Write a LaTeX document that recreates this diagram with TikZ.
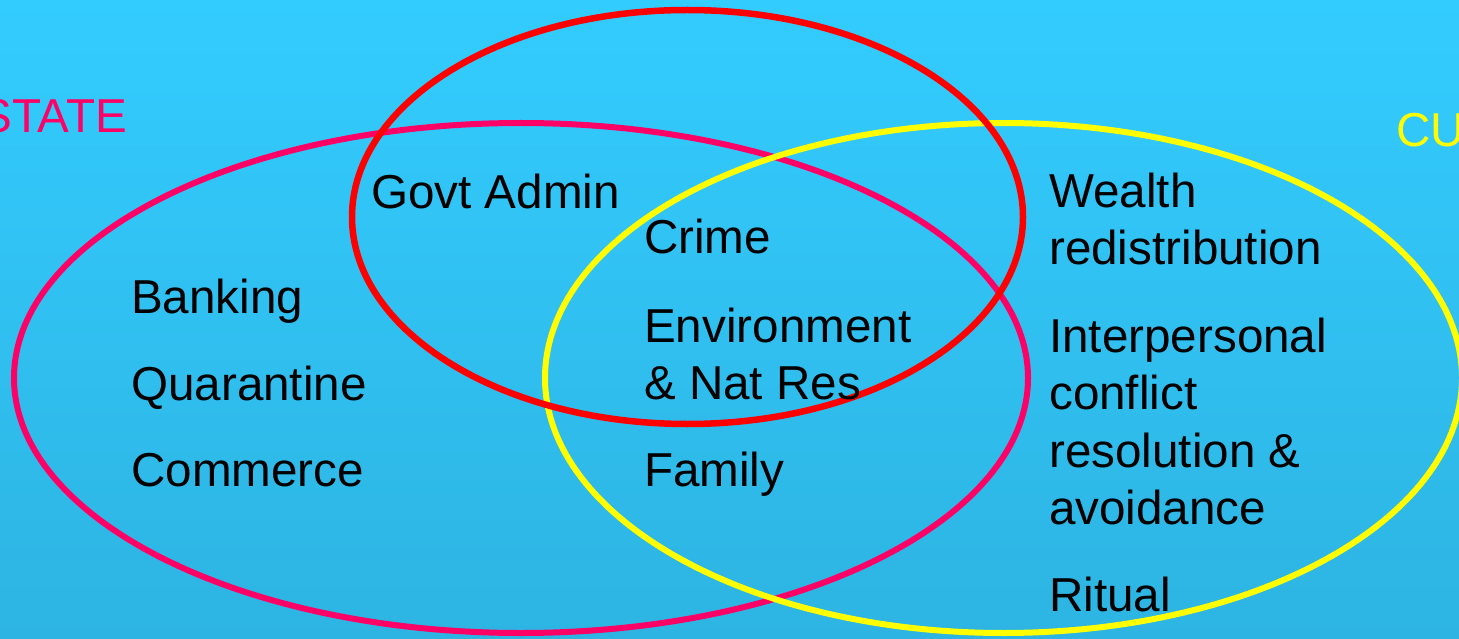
\documentclass[tikz,border=0pt]{standalone}
\usepackage{fontspec}
\setmainfont{Liberation Sans}
\definecolor{bgtop}{RGB}{51,204,255}
\definecolor{bgbot}{RGB}{45,180,226}
\definecolor{statepink}{RGB}{255,0,102}
\definecolor{govred}{RGB}{255,0,0}
\definecolor{custyellow}{RGB}{255,255,0}
\begin{document}
\begin{tikzpicture}[x=1pt,y=-1pt,
  txt/.style={anchor=base west,inner sep=0pt,text=black,font=\fontsize{47.6}{57}\selectfont},
  lbl/.style={inner sep=0pt,font=\fontsize{47.6}{57}\selectfont},
  ring/.style={line width=6pt}]
\useasboundingbox (0,0) rectangle (1459,639);
\clip (0,0) rectangle (1459,639);
\shade[top color=bgtop,bottom color=bgbot] (0,0) rectangle (1459,639);
% ellipses
\draw[ring,statepink] (521,378) ellipse [x radius=507,y radius=255];
\draw[ring,custyellow] (1003.5,378) ellipse [x radius=458.5,y radius=255];
\draw[ring,govred,line width=6.5pt] (687.5,217) ellipse [x radius=335.5,y radius=207];
% set labels
\node[lbl,anchor=base east,text=statepink] (state) at (127,133) {STATE};
\node[lbl,anchor=base west,text=custyellow] (cust) at (1396,147) {CU};
% state-only
\node[txt] (banking) at (131,313) {Banking};
\node[txt] (quar) at (131,400) {Quarantine};
\node[txt] (comm) at (131,486) {Commerce};
% state + govt
\node[txt] (govt) at (371,209) {Govt Admin};
% middle
\node[txt] (crime) at (644,254) {Crime};
\node[txt] (env1) at (644,342) {Environment};
\node[txt] (env2) at (644,399) {\& Nat Res};
\node[txt] (family) at (644,486) {Family};
% custom-only
\node[txt] (w1) at (1049,208) {Wealth};
\node[txt] (w2) at (1049,265) {redistribution};
\node[txt] (i1) at (1049,352) {Interpersonal};
\node[txt] (i2) at (1049,409) {conflict};
\node[txt] (i3) at (1049,467) {resolution \&};
\node[txt] (i4) at (1049,524) {avoidance};
\node[txt] (rit) at (1049,611) {Ritual};
\end{tikzpicture}
\end{document}
